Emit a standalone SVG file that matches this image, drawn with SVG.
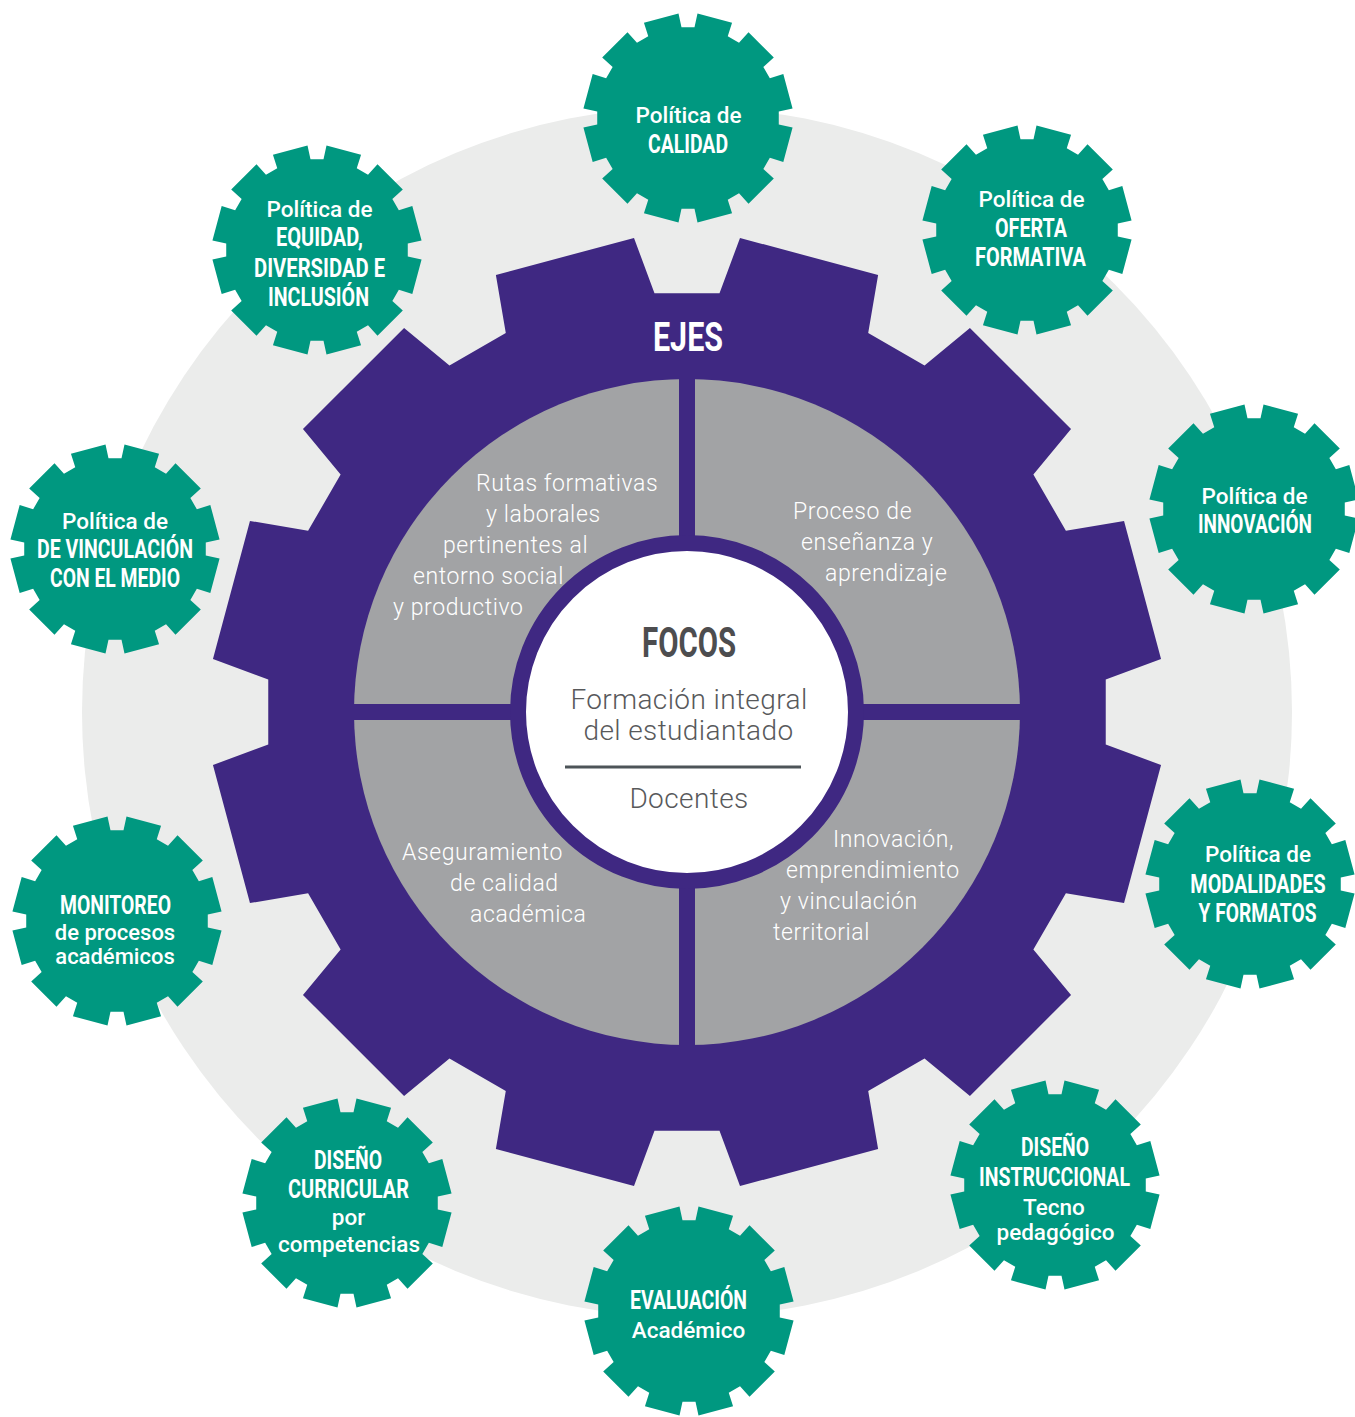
<svg xmlns="http://www.w3.org/2000/svg" xmlns:xlink="http://www.w3.org/1999/xlink" width="1355" height="1417" viewBox="0 0 1355 1417">
<defs>
<style>
.gear{fill:#009880}
.cap{font-family:Roboto,"Liberation Sans",sans-serif;font-weight:700;font-size:26px;fill:#fff;text-anchor:middle}
.reg{font-family:Roboto,"Liberation Sans",sans-serif;font-weight:500;font-size:22.5px;fill:#fff;text-anchor:middle}
.quad{font-family:Roboto,"Liberation Sans",sans-serif;font-weight:300;font-size:23px;letter-spacing:0.6px;fill:#fff}
.ctr{font-family:Roboto,"Liberation Sans",sans-serif;font-weight:300;font-size:28px;letter-spacing:0.4px;fill:#58595B;text-anchor:middle}
</style>
<path id="g" d="M90.77,6.51 L104.57,9.5 L95.31,44.06 L81.86,39.75 L75.35,51.02 L85.81,60.51 L60.51,85.81 L51.02,75.35 L39.75,81.86 L44.06,95.31 L9.5,104.57 L6.51,90.77 L-6.51,90.77 L-9.5,104.57 L-44.06,95.31 L-39.75,81.86 L-51.02,75.35 L-60.51,85.81 L-85.81,60.51 L-75.35,51.02 L-81.86,39.75 L-95.31,44.06 L-104.57,9.5 L-90.77,6.51 L-90.77,-6.51 L-104.57,-9.5 L-95.31,-44.06 L-81.86,-39.75 L-75.35,-51.02 L-85.81,-60.51 L-60.51,-85.81 L-51.02,-75.35 L-39.75,-81.86 L-44.06,-95.31 L-9.5,-104.57 L-6.51,-90.77 L6.51,-90.77 L9.5,-104.57 L44.06,-95.31 L39.75,-81.86 L51.02,-75.35 L60.51,-85.81 L85.81,-60.51 L75.35,-51.02 L81.86,-39.75 L95.31,-44.06 L104.57,-9.5 L90.77,-6.51 Z"/>
</defs>
<rect width="1355" height="1417" fill="#fff"/>
<circle cx="687" cy="712" r="605" fill="#EBECEB"/>

<g id="ejes">
<path transform="translate(687,712)" fill="#3F2882" d="M418.74,32.51 L474.05,53 L437.04,191.12 L378.9,181.21 L346.38,237.53 L384.03,282.93 L282.93,384.03 L237.53,346.38 L181.21,378.9 L191.12,437.04 L53,474.05 L32.51,418.74 L-32.51,418.74 L-53,474.05 L-191.12,437.04 L-181.21,378.9 L-237.53,346.38 L-282.93,384.03 L-384.03,282.93 L-346.38,237.53 L-378.9,181.21 L-437.04,191.12 L-474.05,53 L-418.74,32.51 L-418.74,-32.51 L-474.05,-53 L-437.04,-191.12 L-378.9,-181.21 L-346.38,-237.53 L-384.03,-282.93 L-282.93,-384.03 L-237.53,-346.38 L-181.21,-378.9 L-191.12,-437.04 L-53,-474.05 L-32.51,-418.74 L32.51,-418.74 L53,-474.05 L191.12,-437.04 L181.21,-378.9 L237.53,-346.38 L282.93,-384.03 L384.03,-282.93 L346.38,-237.53 L378.9,-181.21 L437.04,-191.12 L474.05,-53 L418.74,-32.51 Z"/>
<text x="688" y="351" textLength="70" lengthAdjust="spacingAndGlyphs" style="font-family:Roboto,'Liberation Sans',sans-serif;font-weight:700;font-size:40px;fill:#fff;text-anchor:middle">EJES</text>
</g>

<g id="quadrants">
<circle cx="687" cy="712" r="333" fill="#A2A3A5"/>
<rect x="679" y="376" width="16" height="672" fill="#3F2882"/>
<rect x="351" y="704" width="672" height="16" fill="#3F2882"/>
<g class="quad">
<text x="476" y="491">Rutas formativas</text>
<text x="486" y="522">y laborales</text>
<text x="443" y="553">pertinentes al</text>
<text x="413" y="584">entorno social</text>
<text x="393" y="615">y productivo</text>
<text x="793" y="519">Proceso de</text>
<text x="801" y="550">enseñanza y</text>
<text x="825" y="581">aprendizaje</text>
<text x="402" y="860">Aseguramiento</text>
<text x="450" y="891">de calidad</text>
<text x="470" y="922">académica</text>
<text x="833" y="847">Innovación,</text>
<text x="786" y="878">emprendimiento</text>
<text x="780" y="909">y vinculación</text>
<text x="773" y="940">territorial</text>
</g>
</g>

<g id="focos">
<circle cx="687" cy="712" r="169" fill="#fff" stroke="#3F2882" stroke-width="16"/>
<text x="689" y="657" textLength="94" lengthAdjust="spacingAndGlyphs" style="font-family:Roboto,'Liberation Sans',sans-serif;font-weight:700;font-size:42px;fill:#4D4D4F;text-anchor:middle">FOCOS</text>
<text class="ctr" x="689" y="709">Formación integral</text>
<text class="ctr" x="688.5" y="740">del estudiantado</text>
<line x1="565" y1="767" x2="801" y2="767" stroke="#4D5458" stroke-width="3"/>
<text class="ctr" x="689" y="808">Docentes</text>
</g>

<g id="calidad">
<use xlink:href="#g" href="#g" class="gear" transform="translate(688,118)"/>
<text class="reg" x="688.5" y="123">Política de</text>
<text class="cap" x="688" y="153" textLength="80" lengthAdjust="spacingAndGlyphs">CALIDAD</text>
</g>
<g id="oferta">
<use xlink:href="#g" href="#g" class="gear" transform="translate(1027,230)"/>
<text class="reg" x="1031.5" y="207">Política de</text>
<text class="cap" x="1031" y="237" textLength="72" lengthAdjust="spacingAndGlyphs">OFERTA</text>
<text class="cap" x="1030.5" y="266" textLength="111" lengthAdjust="spacingAndGlyphs">FORMATIVA</text>
</g>
<g id="innovacion">
<use xlink:href="#g" href="#g" class="gear" transform="translate(1254,509)"/>
<text class="reg" x="1254.5" y="504">Política de</text>
<text class="cap" x="1255" y="533" textLength="114" lengthAdjust="spacingAndGlyphs">INNOVACIÓN</text>
</g>
<g id="modalidades">
<use xlink:href="#g" href="#g" class="gear" transform="translate(1250,884)"/>
<text class="reg" x="1258" y="862">Política de</text>
<text class="cap" transform="translate(1258,893) scale(0.76,1)" x="0" y="0">MODALIDADES</text>
<text class="cap" transform="translate(1257.5,922) scale(0.737,1)" x="0" y="0">Y FORMATOS</text>
</g>
<g id="instruccional">
<use xlink:href="#g" href="#g" class="gear" transform="translate(1055,1185)"/>
<text class="cap" x="1055" y="1156" textLength="68" lengthAdjust="spacingAndGlyphs">DISEÑO</text>
<text class="cap" x="1054.5" y="1186" textLength="151" lengthAdjust="spacingAndGlyphs">INSTRUCCIONAL</text>
<text class="reg" x="1054" y="1215">Tecno</text>
<text class="reg" x="1055.5" y="1240">pedagógico</text>
</g>
<g id="evaluacion">
<use xlink:href="#g" href="#g" class="gear" transform="translate(689,1311)"/>
<text class="cap" x="688.5" y="1309" textLength="117" lengthAdjust="spacingAndGlyphs">EVALUACIÓN</text>
<text class="reg" x="688.5" y="1338">Académico</text>
</g>
<g id="curricular">
<use xlink:href="#g" href="#g" class="gear" transform="translate(347,1203)"/>
<text class="cap" x="348" y="1169" textLength="68" lengthAdjust="spacingAndGlyphs">DISEÑO</text>
<text class="cap" x="348.5" y="1198" textLength="121" lengthAdjust="spacingAndGlyphs">CURRICULAR</text>
<text class="reg" x="348.5" y="1225">por</text>
<text class="reg" x="349" y="1252">competencias</text>
</g>
<g id="monitoreo">
<use xlink:href="#g" href="#g" class="gear" transform="translate(117,921)"/>
<text class="cap" x="115.5" y="914" textLength="111" lengthAdjust="spacingAndGlyphs">MONITOREO</text>
<text class="reg" x="115" y="940" style="font-size:22px">de procesos</text>
<text class="reg" x="115" y="964" style="font-size:22px">académicos</text>
</g>
<g id="vinculacion">
<use xlink:href="#g" href="#g" class="gear" transform="translate(115,549)"/>
<text class="reg" x="115" y="529">Política de</text>
<text class="cap" x="115" y="558" textLength="156" lengthAdjust="spacingAndGlyphs">DE VINCULACIÓN</text>
<text class="cap" x="115" y="587" textLength="130" lengthAdjust="spacingAndGlyphs">CON EL MEDIO</text>
</g>
<g id="equidad">
<use xlink:href="#g" href="#g" class="gear" transform="translate(317,250)"/>
<text class="reg" x="319.5" y="217">Política de</text>
<text class="cap" x="319.5" y="246" textLength="87" lengthAdjust="spacingAndGlyphs">EQUIDAD,</text>
<text class="cap" x="319.5" y="277" textLength="131" lengthAdjust="spacingAndGlyphs">DIVERSIDAD E</text>
<text class="cap" x="318.5" y="306" textLength="101" lengthAdjust="spacingAndGlyphs">INCLUSIÓN</text>
</g>
<g id="connectors"/>
</svg>
